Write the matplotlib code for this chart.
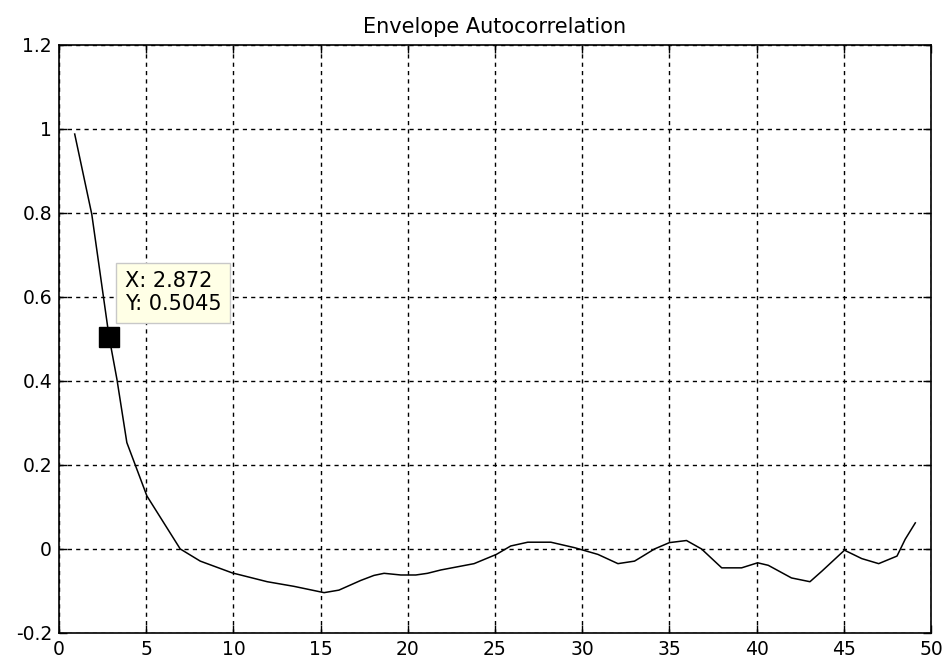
import matplotlib
matplotlib.use('Agg')
import matplotlib.pyplot as plt

# lag vs envelope autocorrelation
lag = [0.9, 1.88, 2.872, 3.32, 3.89, 5.04, 6.95, 8.1, 9.93, 11.94, 13.47, 15.2,
       16.05, 17.3, 18.06, 18.64, 19.6, 20.46, 21.13, 21.9, 23.8, 25.08, 25.9,
       26.88, 28.2, 29.56, 30.9, 32.05, 33.0, 33.4, 34.15, 35.0, 35.98, 36.84,
       38.0, 39.14, 40.06, 40.67, 42.0, 43.06, 43.74, 45.04, 46.03, 47.0, 48.05,
       48.52, 49.1]
acorr = [0.987, 0.796, 0.5045, 0.404, 0.253, 0.126, 0.0, -0.029, -0.057, -0.078,
         -0.089, -0.104, -0.098, -0.075, -0.063, -0.058, -0.062, -0.062, -0.058,
         -0.050, -0.035, -0.013, 0.007, 0.016, 0.016, 0.003, -0.013, -0.035,
         -0.029, -0.019, 0.0, 0.015, 0.020, 0.0, -0.045, -0.045, -0.033, -0.039,
         -0.069, -0.078, -0.053, -0.003, -0.023, -0.035, -0.017, 0.023, 0.062]

tip_x = 2.872
tip_y = 0.5045
xticks = list(range(0, 51, 5))
yticks = [-0.2, 0, 0.2, 0.4, 0.6, 0.8, 1, 1.2]
ytick_labels = ['-0.2', '0', '0.2', '0.4', '0.6', '0.8', '1', '1.2']

plt.rcParams['font.family'] = ['DejaVu Sans']
plt.rcParams['font.size'] = 13.5

fig = plt.figure(figsize=(9.45, 6.64), dpi=100)
ax = fig.add_axes([59 / 945, 1 - 633 / 664, (931 - 59) / 945, (633 - 44.5) / 664])

ax.plot(lag, acorr, color='black', linewidth=1.1)
ax.plot([tip_x], [tip_y], marker='s', markersize=15, color='black', linestyle='none')

ax.text(tip_x + 0.9, tip_y + 0.105, 'X: %.3f\nY: %.4f' % (tip_x, tip_y),
        ha='left', va='center', fontsize=15, linespacing=1.2,
        bbox=dict(boxstyle='square,pad=0.4', facecolor='#ffffe6', edgecolor='#c8c8c8'))

ax.set_xlim(0, 50)
ax.set_ylim(-0.2, 1.2)
ax.set_xticks(xticks)
ax.set_yticks(yticks)
ax.set_yticklabels(ytick_labels)
ax.tick_params(direction='in', top=True, right=True, length=6, width=1, pad=5)
ax.grid(True, color='black', linestyle=(0, (3, 3)), linewidth=1)
for s in ax.spines.values():
    s.set_linewidth(1.2)
ax.set_title('Envelope Autocorrelation', fontsize=15, pad=8)

plt.savefig('out.png', dpi=100)
plt.close()
